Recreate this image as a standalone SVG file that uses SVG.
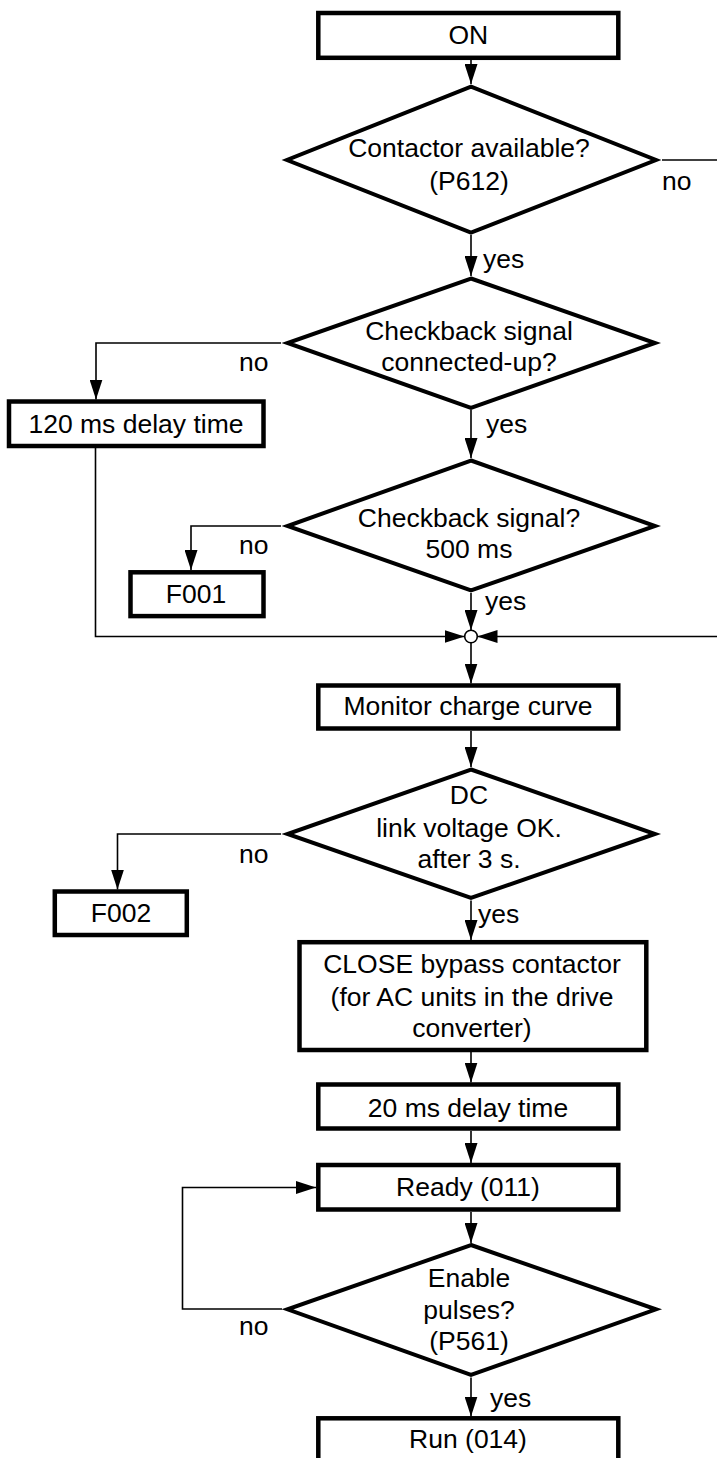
<svg xmlns="http://www.w3.org/2000/svg" width="717" height="1458" viewBox="0 0 717 1458">
<defs>
<style>
.box{fill:#fff;stroke:#000;stroke-width:4.5}
.dia{fill:#fff;stroke:#000;stroke-width:4;stroke-linejoin:miter;stroke-miterlimit:10}
.t{font-family:"Liberation Sans",Arial,sans-serif;font-size:26.5px;fill:#000}
.c{text-anchor:middle}
.ln{fill:none;stroke:#000;stroke-width:1.6}
.ar{marker-end:url(#ah)}
</style>
<marker id="ah" viewBox="0 0 20 13" refX="20" refY="6.5" markerWidth="20" markerHeight="13" markerUnits="userSpaceOnUse" orient="auto">
<path d="M0,0 L20,6.5 L0,13 z" fill="#000"/>
</marker>
</defs>
<rect width="717" height="1458" fill="#fff"/>

<g id="connectors">
<path class="ln ar" d="M471,60 V84"/>
<path class="ln" d="M662,160 H717"/>
<path class="ln ar" d="M471,235 V276"/>
<path class="ln ar" d="M281,343 H96 V399.5"/>
<path class="ln ar" d="M471,410 V458"/>
<path class="ln ar" d="M95.5,448 V636.5 H464.5"/>
<path class="ln ar" d="M281,526 H191 V570"/>
<path class="ln ar" d="M471,593 V630"/>
<path class="ln ar" d="M717,636.5 H477.5"/>
<path class="ln ar" d="M471,643 V683.5"/>
<path class="ln ar" d="M471,731 V767"/>
<path class="ln ar" d="M281,834 H117.5 V889.5"/>
<path class="ln ar" d="M471,900.5 V940"/>
<path class="ln ar" d="M471,1052 V1082.5"/>
<path class="ln ar" d="M471,1131 V1163"/>
<path class="ln ar" d="M471,1212 V1243"/>
<path class="ln ar" d="M282,1309 H182.5 V1187.5 H316"/>
<path class="ln ar" d="M471,1377.5 V1416.5"/>
<circle cx="471" cy="636.5" r="6.3" fill="#fff" stroke="#000" stroke-width="1.6"/>
<line x1="471.5" y1="496" x2="471.5" y2="500" stroke="#000" stroke-width="1"/>
<text class="t" x="662" y="190">no</text>
<text class="t" x="483" y="268">yes</text>
<text class="t" x="239" y="371">no</text>
<text class="t" x="486" y="433">yes</text>
<text class="t" x="239" y="554">no</text>
<text class="t" x="485" y="610">yes</text>
<text class="t" x="239" y="863">no</text>
<text class="t" x="478" y="922.7">yes</text>
<text class="t" x="239" y="1335">no</text>
<text class="t" x="490" y="1407">yes</text>
</g>

<g id="n-on">
<rect class="box" x="318.3" y="13" width="300" height="44.8"/>
<text class="t c" x="468.3" y="44">ON</text>
</g>

<g id="n-contactor">
<polygon class="dia" points="471,86.7 656,160 471,232.6 287,160"/>
<text class="t c" x="469" y="157">Contactor available?</text>
<text class="t c" x="469" y="190">(P612)</text>
</g>

<g id="n-checkback-connected">
<polygon class="dia" points="471,278.5 655,343 471,408 287.5,343"/>
<text class="t c" x="469" y="339.5">Checkback signal</text>
<text class="t c" x="469" y="371">connected-up?</text>
</g>

<g id="n-delay120">
<rect class="box" x="9" y="401.5" width="254.5" height="44.5"/>
<text class="t c" x="136" y="432.7">120 ms delay time</text>
</g>

<g id="n-checkback">
<polygon class="dia" points="471,460.5 655,526 471,590.5 287.5,526"/>
<text class="t c" x="469" y="527">Checkback signal?</text>
<text class="t c" x="469" y="558.3">500 ms</text>
</g>

<g id="n-f001">
<rect class="box" x="130.5" y="572.3" width="133" height="43.8"/>
<text class="t c" x="196" y="602.7">F001</text>
</g>

<g id="n-monitor">
<rect class="box" x="318.3" y="685.5" width="300" height="43"/>
<text class="t c" x="468" y="715">Monitor charge curve</text>
</g>

<g id="n-dclink">
<polygon class="dia" points="471,769.5 655,834 471,898 287.5,834"/>
<text class="t c" x="469" y="804">DC</text>
<text class="t c" x="469" y="837">link voltage OK.</text>
<text class="t c" x="469" y="868">after 3 s.</text>
</g>

<g id="n-f002">
<rect class="box" x="54.8" y="891.5" width="132" height="43.5"/>
<text class="t c" x="121" y="922">F002</text>
</g>

<g id="n-close">
<rect class="box" x="299.5" y="942.2" width="346.8" height="107.8"/>
<text class="t c" x="472" y="973.3">CLOSE bypass contactor</text>
<text class="t c" x="472" y="1006">(for AC units in the drive</text>
<text class="t c" x="472" y="1036.7">converter)</text>
</g>

<g id="n-delay20">
<rect class="box" x="318.3" y="1084.5" width="300" height="44"/>
<text class="t c" x="468" y="1116.7">20 ms delay time</text>
</g>

<g id="n-ready">
<rect class="box" x="318.3" y="1165" width="300" height="44.5"/>
<text class="t c" x="468" y="1195.7">Ready (011)</text>
</g>

<g id="n-enable">
<polygon class="dia" points="471,1245 656,1309.3 471,1375 287.5,1309.3"/>
<text class="t c" x="469" y="1287.3">Enable</text>
<text class="t c" x="469" y="1319">pulses?</text>
<text class="t c" x="469" y="1349.5">(P561)</text>
</g>

<g id="n-run">
<rect class="box" x="318.3" y="1418.3" width="300" height="50"/>
<text class="t c" x="468" y="1447.7">Run (014)</text>
</g>
</svg>
